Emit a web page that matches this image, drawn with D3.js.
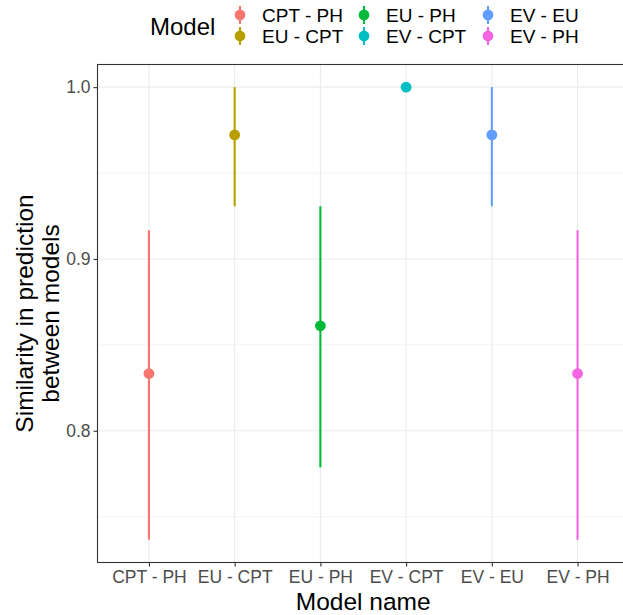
<!DOCTYPE html>
<html>
<head>
<meta charset="utf-8">
<script src="https://cdn.jsdelivr.net/npm/d3@7"></script>
<style>
  html, body { margin: 0; padding: 0; background: #fff; }
  svg { display: block; font-family: "Liberation Sans", Arial, sans-serif; }
</style>
</head>
<body>
<svg id="chart" width="623" height="615"></svg>
<script>
// Model pairs and their agreement estimates with intervals
const models = ["CPT - PH", "EU - CPT", "EU - PH", "EV - CPT", "EV - EU", "EV - PH"];
const similarity = [0.8333, 0.9722, 0.8611, 1.0, 0.9722, 0.8333];
const lower = [0.7365, 0.9307, 0.7787, 1.0, 0.9307, 0.7365];
const upper = [0.9167, 1.0, 0.9307, 1.0, 1.0, 0.9167];
const colors = ["#F8766D", "#B79F00", "#00BA38", "#00BFC4", "#619CFF", "#F564E3"];
const yTicks = [0.8, 0.9, 1.0];
const yMinor = [0.75, 0.85, 0.95];

const svg = d3.select("#chart");
const panel = { left: 97.5, top: 64.5, right: 629, bottom: 562.5 };

// discrete x scale with 0.6 unit expansion on each side
const n = models.length;
const step = (panel.right - panel.left) / (n - 1 + 1.2);
const x = d3.scalePoint().domain(models)
  .range([panel.left + 0.6 * step, panel.right - 0.6 * step]);

// continuous y scale with 5% expansion
const lo = d3.min(lower), hi = d3.max(upper);
const pad = (hi - lo) * 0.05;
const y = d3.scaleLinear().domain([lo - pad, hi + pad]).range([panel.bottom, panel.top]);

const color = d3.scaleOrdinal().domain(models).range(colors);

// grid
const grid = svg.append("g");
grid.selectAll(".minor").data(yMinor).join("line")
  .attr("x1", panel.left).attr("x2", panel.right)
  .attr("y1", d => y(d)).attr("y2", d => y(d))
  .attr("stroke", "#EBEBEB").attr("stroke-width", 0.55);
grid.selectAll(".major").data(yTicks).join("line")
  .attr("x1", panel.left).attr("x2", panel.right)
  .attr("y1", d => y(d)).attr("y2", d => y(d))
  .attr("stroke", "#EBEBEB").attr("stroke-width", 1.1);
grid.selectAll(".vmajor").data(models).join("line")
  .attr("x1", d => x(d)).attr("x2", d => x(d))
  .attr("y1", panel.top).attr("y2", panel.bottom)
  .attr("stroke", "#EBEBEB").attr("stroke-width", 1.1);

// point ranges
const marks = svg.append("g");
models.forEach((m, i) => {
  marks.append("line")
    .attr("x1", x(m)).attr("x2", x(m))
    .attr("y1", y(lower[i])).attr("y2", y(upper[i]))
    .attr("stroke", color(m)).attr("stroke-width", 2.1);
  marks.append("circle")
    .attr("cx", x(m)).attr("cy", y(similarity[i])).attr("r", 5.4)
    .attr("fill", color(m));
});

// panel border
svg.append("rect")
  .attr("x", panel.left).attr("y", panel.top)
  .attr("width", panel.right - panel.left).attr("height", panel.bottom - panel.top)
  .attr("fill", "none").attr("stroke", "#333333").attr("stroke-width", 1.1);

// axes
const yAxis = svg.append("g").attr("transform", `translate(${panel.left},0)`)
  .call(d3.axisLeft(y).tickValues(yTicks).tickFormat(d3.format(".1f")).tickSize(4).tickPadding(3));
const xAxis = svg.append("g").attr("transform", `translate(0,${panel.bottom})`)
  .call(d3.axisBottom(x).tickSize(4).tickPadding(4));
[xAxis, yAxis].forEach(a => {
  a.select(".domain").remove();
  a.selectAll(".tick line").attr("stroke", "#333333").attr("stroke-width", 1.1);
  a.selectAll(".tick text").attr("fill", "#4D4D4D")
    .style("font-size", "17.5px").style("font-family", "Liberation Sans, Arial, sans-serif");
});

// axis titles
svg.append("text")
  .attr("x", (panel.left + panel.right) / 2).attr("y", 610)
  .attr("text-anchor", "middle").style("font-size", "24.5px").attr("fill", "#000")
  .text("Model name");
const yt = svg.append("text")
  .attr("transform", `translate(33,${(panel.top + panel.bottom) / 2}) rotate(-90)`)
  .attr("text-anchor", "middle").style("font-size", "24.5px").attr("fill", "#000");
yt.append("tspan").attr("x", 0).attr("dy", 0).text("Similarity in prediction");
yt.append("tspan").attr("x", 0).attr("dy", 26).text("between models");

// legend
const legend = svg.append("g");
legend.append("text").attr("x", 150).attr("y", 35)
  .style("font-size", "24px").attr("fill", "#000").text("Model");
const colX = [240, 364, 488];
const rowY = [15, 36];
models.forEach((m, i) => {
  const cx = colX[Math.floor(i / 2)], cy = rowY[i % 2];
  const g = legend.append("g");
  g.append("line").attr("x1", cx).attr("x2", cx).attr("y1", cy - 9).attr("y2", cy + 9)
    .attr("stroke", color(m)).attr("stroke-width", 2.1);
  g.append("circle").attr("cx", cx).attr("cy", cy).attr("r", 5.4).attr("fill", color(m));
  g.append("text").attr("x", cx + 22).attr("y", cy + 7)
    .style("font-size", "19px").attr("fill", "#000").text(m);
});
</script>
</body>
</html>
